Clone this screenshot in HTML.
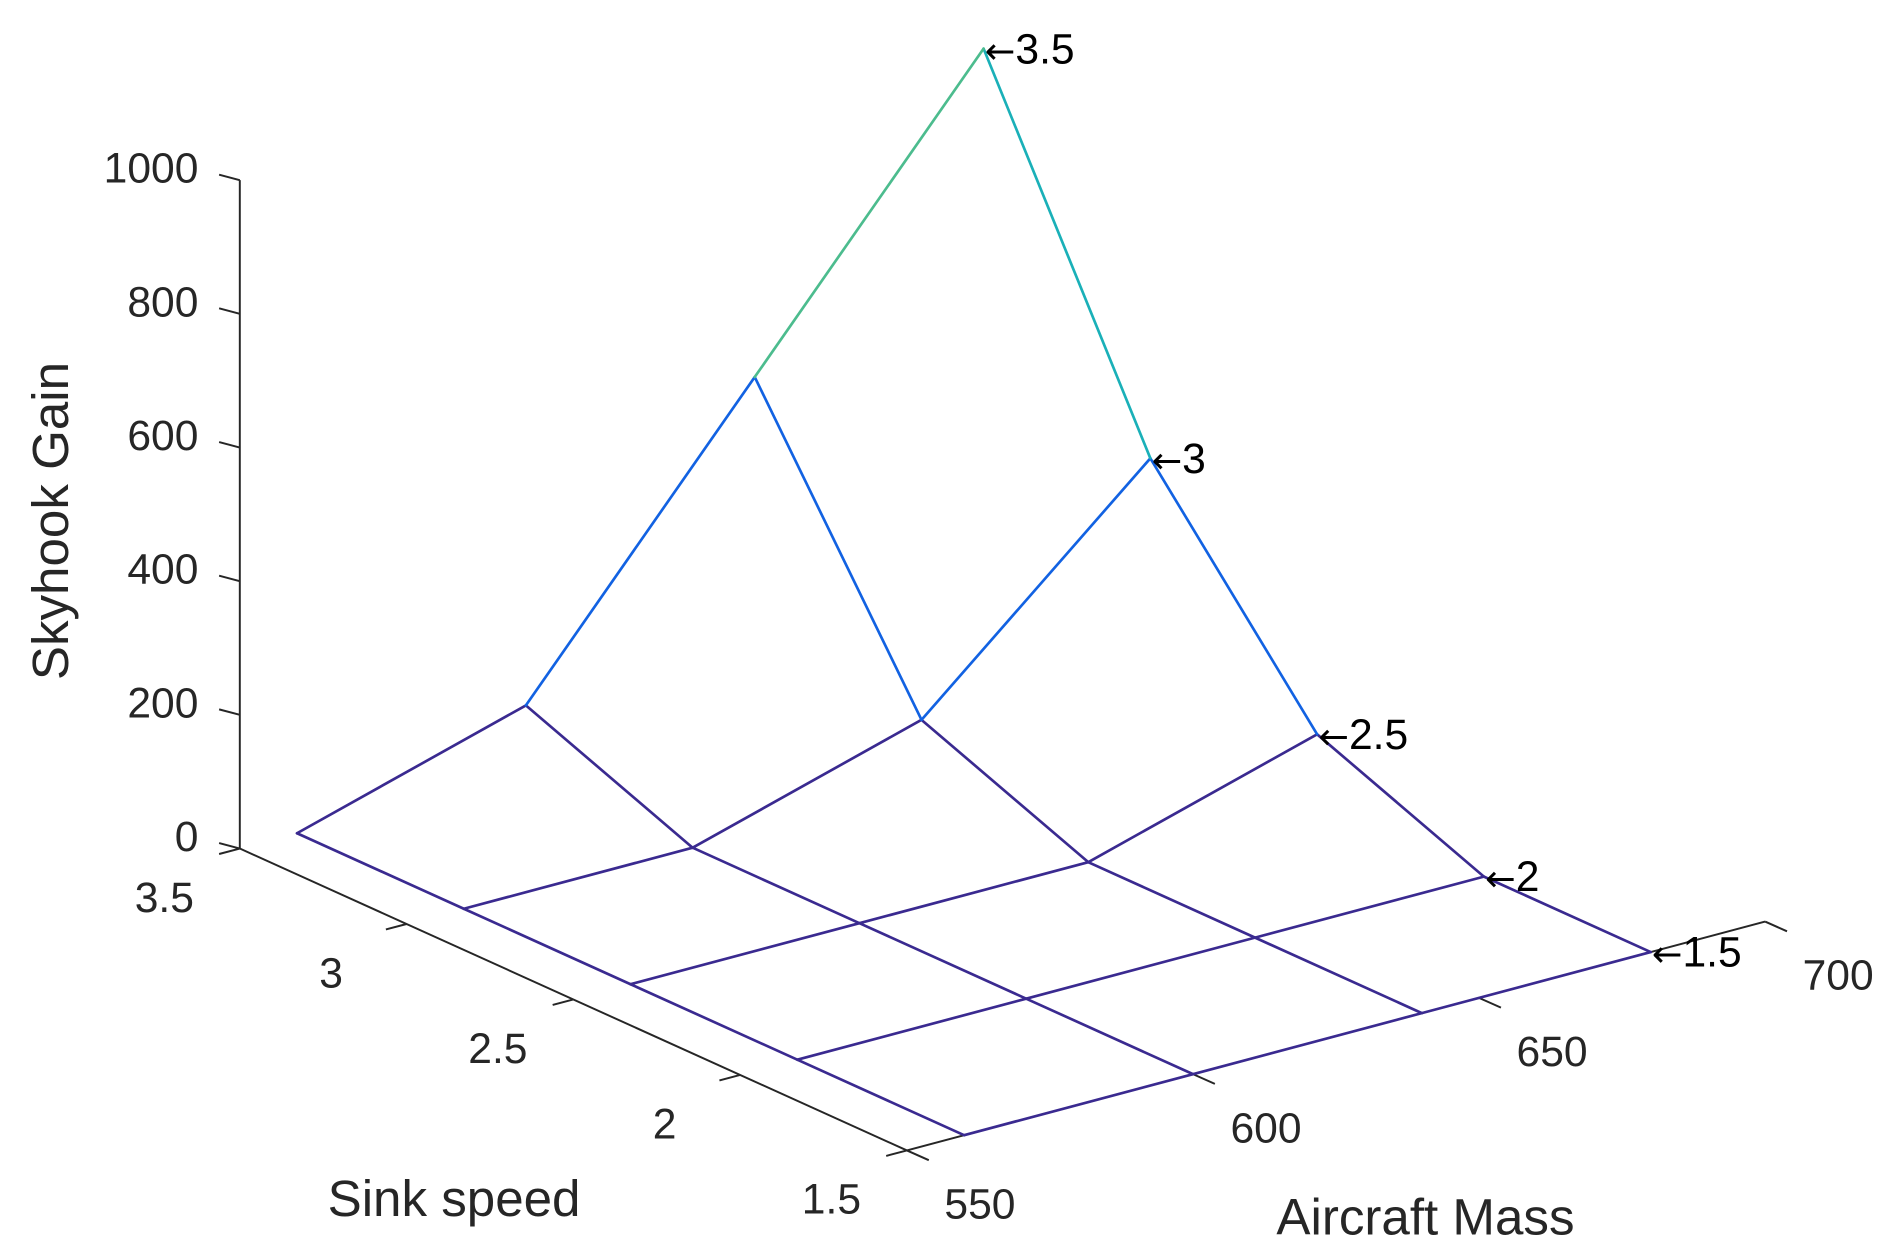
<!DOCTYPE html>
<html><head><meta charset="utf-8"><style>
html,body{margin:0;padding:0;background:#fff;}
svg{display:block;font-family:"Liberation Sans",Arial,sans-serif;}
</style></head><body>
<svg id="chart" width="1899" height="1260" viewBox="0 0 1560 1035" preserveAspectRatio="none" xmlns="http://www.w3.org/2000/svg">
<g id="axes"></g>
<g id="mesh"></g>
<g id="labels"></g>
</svg>
<script>
const masses = [560, 600, 640, 680];
const sinks = [1.5, 2, 2.5, 3, 3.5];
const gainRow15 = [0, 0, 0, 0];
const gainRow20 = [0, 0, 0, 0];
const gainRow25 = [0, 0, 0, 100];
const gainRow30 = [0, 0, 100, 400];
const gainRow35 = [0, 100, 500, 900];
const gains = [gainRow15, gainRow20, gainRow25, gainRow30, gainRow35];
const zTicks = [0, 200, 400, 600, 800, 1000];
const sinkTicks = [1.5, 2, 2.5, 3, 3.5];
const sinkTickLabels = ["1.5", "2", "2.5", "3", "3.5"];
const massTicks = [550, 600, 650, 700];
const massTickLabels = ["550", "600", "650", "700"];
const rowLabels = ["1.5", "2", "2.5", "3", "3.5"];

const NS = "http://www.w3.org/2000/svg";
function P(m, s, z) {
  return [745 + (m - 550) * 4.7 + (s - 1.5) * -274,
          945 + (m - 550) * -1.2533 + (s - 1.5) * -124 + z * -0.549];
}
function mk(tag, attrs, parent) {
  const e = document.createElementNS(NS, tag);
  for (const k in attrs) e.setAttribute(k, attrs[k]);
  parent.appendChild(e);
  return e;
}
function color(z1, z2) {
  const mx = Math.max(z1, z2), mn = Math.min(z1, z2);
  if (mx <= 100) return "#3a2a90";
  if (mn >= 400 && (z1 === 500 || z2 === 500)) return "#4cbc8e";
  if (mn >= 400) return "#1ab0b8";
  return "#1262e2";
}
const axes = document.getElementById("axes");
const mesh = document.getElementById("mesh");
const labels = document.getElementById("labels");
const FS = 35;

let a0 = P(550, 3.5, 0), a1 = P(550, 3.5, 1000);
let l = mk("line", {x1: a0[0], y1: a0[1], x2: a1[0], y2: a1[1], stroke: "#262626", "stroke-width": 1.6}, axes);


zTicks.forEach(v => {
  const p = P(550, 3.5, v);
  const t = mk("line", {x1: p[0] - 17, y1: p[1] - 4.5, x2: p[0], y2: p[1], stroke: "#262626", "stroke-width": 1.6}, axes);
  
  
  const tx = mk("text", {x: p[0] - 34, y: p[1] + 2, "font-size": FS, "text-anchor": "end", fill: "#262626"}, labels);
  tx.textContent = v;
  
  
});
a0 = P(550, 3.5, 0); a1 = P(550, 1.5, 0);
l = mk("line", {x1: a0[0], y1: a0[1], x2: a1[0], y2: a1[1], stroke: "#262626", "stroke-width": 1.6}, axes);


sinkTicks.forEach((v, i) => {
  const p = P(550, v, 0);
  const t = mk("line", {x1: p[0] - 17, y1: p[1] + 4.5, x2: p[0], y2: p[1], stroke: "#262626", "stroke-width": 1.6}, axes);
  
  
  const tx = mk("text", {x: p[0] - 62, y: p[1] + 52, "font-size": FS, "text-anchor": "middle", fill: "#262626"}, labels);
  tx.textContent = sinkTickLabels[i];
  
  
});
a0 = P(550, 1.5, 0); a1 = P(700, 1.5, 0);
l = mk("line", {x1: a0[0], y1: a0[1], x2: a1[0], y2: a1[1], stroke: "#262626", "stroke-width": 1.6}, axes);


massTicks.forEach((v, i) => {
  const p = P(v, 1.5, 0);
  const t = mk("line", {x1: p[0], y1: p[1], x2: p[0] + 18, y2: p[1] + 8, stroke: "#262626", "stroke-width": 1.6}, axes);
  
  
  const tx = mk("text", {x: p[0] + 60, y: p[1] + 56, "font-size": FS, "text-anchor": "middle", fill: "#262626"}, labels);
  tx.textContent = massTickLabels[i];
  
  
});
const segs = [];
for (let i = 0; i < sinks.length; i++) for (let j = 0; j < masses.length; j++) {
  if (j + 1 < masses.length) segs.push([i, j, i, j + 1]);
  if (i + 1 < sinks.length) segs.push([i, j, i + 1, j]);
}
segs.forEach(([i1, j1, i2, j2]) => {
  const z1 = gains[i1][j1], z2 = gains[i2][j2];
  const p1 = P(masses[j1], sinks[i1], z1), p2 = P(masses[j2], sinks[i2], z2);
  const e = mk("line", {x1: p1[0], y1: p1[1], x2: p2[0], y2: p2[1], stroke: color(z1, z2), "stroke-width": 2.2, "stroke-linecap": "round"}, mesh);
  
  
});
sinks.forEach((s, i) => {
  const p = P(masses[masses.length - 1], s, gains[i][masses.length - 1]);
  const tx = mk("text", {x: p[0] + 1, y: p[1] + 12, "font-size": FS, fill: "#000"}, labels);
  const ar = mk("tspan", {"font-family": "DejaVu Sans, sans-serif", "font-size": 30}, tx);
  ar.textContent = "\u2190";
  const nm = mk("tspan", {}, tx);
  nm.textContent = rowLabels[i];
  
  
});
let t = mk("text", {x: 0, y: 0, "font-size": 42, "text-anchor": "middle", fill: "#262626", transform: "translate(56,428) rotate(-90)"}, labels);
t.textContent = "Skyhook Gain";


t = mk("text", {x: 373, y: 999, "font-size": 42, "text-anchor": "middle", fill: "#262626"}, labels);
t.textContent = "Sink speed";


t = mk("text", {x: 1171, y: 1014, "font-size": 42, "text-anchor": "middle", fill: "#262626"}, labels);
t.textContent = "Aircraft Mass";


</script>
</body></html>
